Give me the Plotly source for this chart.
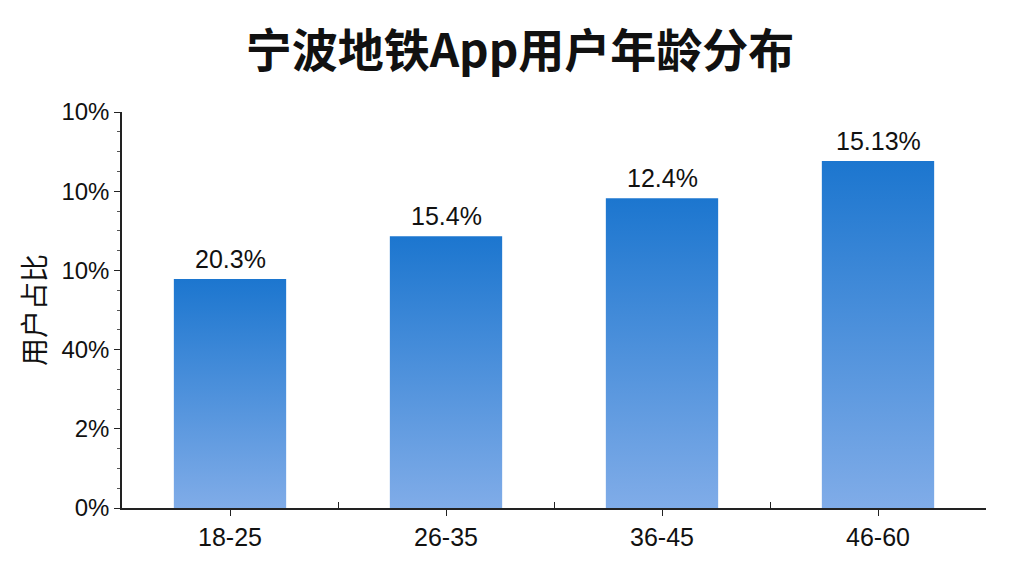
import plotly.graph_objects as go

categories = ["18-25", "26-35", "36-45", "46-60"]
values = [2.89, 3.43, 3.91, 4.38]          # bar heights in axis units
bar_labels = ["20.3%", "15.4%", "12.4%", "15.13%"]
y_tickvals = [0, 1, 2, 3, 4, 5]
y_ticktext = ["0%", "2%", "40%", "10%", "10%", "10%"]

title_text = "宁波地铁App用户年龄分布"
y_title = "用户占比"

FONT = "Liberation Sans, Arial, Noto Sans CJK SC, sans-serif"
CJK = "Noto Sans CJK SC, sans-serif"
TOP_COLOR = "#1c76cf"
BOTTOM_COLOR = "#80ace8"
HALF_W = 0.26

fig = go.Figure()
for i, v in enumerate(values):
    xs = [i - HALF_W, i + HALF_W, i + HALF_W, i - HALF_W, i - HALF_W]
    ys = [0, 0, v, v, 0]
    fig.add_trace(go.Scatter(
        x=xs, y=ys, mode="lines", fill="toself",
        line=dict(width=0, color=TOP_COLOR),
        fillgradient=dict(type="vertical", start=0, stop=v,
                          colorscale=[[0, BOTTOM_COLOR], [1, TOP_COLOR]]),
        name=categories[i], showlegend=False, hoverinfo="skip",
    ))

for i, (v, lab) in enumerate(zip(values, bar_labels)):
    fig.add_annotation(
        x=i, y=v, text=lab, showarrow=False,
        xanchor="center", yanchor="bottom", yshift=4,
        font=dict(size=25, color="#111111", family=FONT),
    )

fig.update_layout(
    width=1024, height=576,
    paper_bgcolor="white", plot_bgcolor="white",
    margin=dict(l=114, r=46, t=104, b=76),
    title=dict(text="<b>" + title_text + "</b>", x=0.5, xanchor="center",
               y=0.925, yanchor="middle",
               font=dict(size=46, color="#111111", family=CJK)),
    xaxis=dict(
        range=[-0.5, 3.5], tickmode="array",
        tickvals=list(range(len(categories))), ticktext=categories,
        showgrid=False, zeroline=False,
        showline=True, linecolor="#222222", linewidth=1.5,
        ticks="outside", ticklen=6, tickcolor="#222222",
        tickfont=dict(size=25, color="#111111", family=FONT),
        minor=dict(tickvals=[0.5, 1.5, 2.5], ticks="inside", ticklen=6,
                   tickcolor="#222222", showgrid=False),
    ),
    yaxis=dict(
        range=[0, 5], tickmode="array", tickvals=y_tickvals, ticktext=y_ticktext,
        showgrid=False, zeroline=False,
        showline=True, linecolor="#222222", linewidth=1.5,
        ticks="outside", ticklen=6, tickcolor="#222222",
        tickfont=dict(size=24, color="#111111", family=FONT),
        minor=dict(dtick=0.25, ticks="outside", ticklen=3,
                   tickcolor="#555555", showgrid=False),
        title=dict(text=y_title, standoff=8,
                   font=dict(size=28, color="#111111", family=CJK)),
    ),
)

fig.write_html("out.html")
